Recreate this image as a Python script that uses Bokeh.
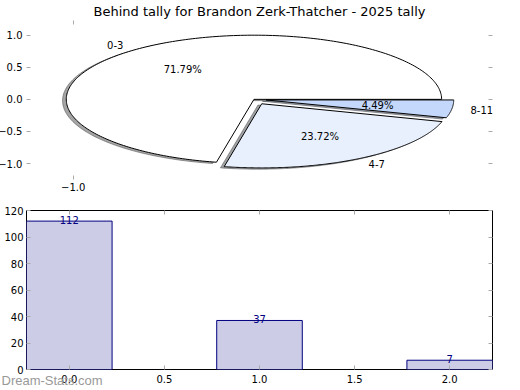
import numpy as np
from bokeh.plotting import figure
from bokeh.layouts import column
from bokeh.models import Range1d, LinearAxis, FixedTicker, ColumnDataSource, Title
from bokeh.embed import file_html
from bokeh.resources import INLINE
from bokeh.core.properties import value

# ---------------- data ----------------
categories = ["0-3", "4-7", "8-11"]
counts = [112, 37, 7]
explode = [0.0, 0.08, 0.065]
pie_colors = ["#ffffff", "#e9f0fd", "#c4d8fc"]
bar_x = [0, 1, 2]
title_text = "Behind tally for Brandon Zerk-Thatcher - 2025 tally"
pie_yticks = [-1.0, -0.5, 0.0, 0.5, 1.0]
pie_ytick_labels = ["\u22121.0", "\u22120.5", "0.0", "0.5", "1.0"]
pie_xticks = [-1.0]
pie_xtick_labels = ["\u22121.0"]
bar_xticks = [0, 0.5, 1, 1.5, 2]
bar_xtick_labels = ["0.0", "0.5", "1.0", "1.5", "2.0"]
bar_yticks = [0, 20, 40, 60, 80, 100, 120]
watermark = "Dream-Stats.com"

FONT = "DejaVu Sans"
TICK_COLOR = "#aaaaaa"
SHIFT = 11          # page is shifted left by this many px (empty space left of y labels)
W = 520 + SHIFT
H1 = 196
H2 = 194


def style_axis(ax, labels=True, size="10px", standoff=3):
    ax.axis_line_color = None
    ax.major_tick_in = 4
    ax.major_tick_out = 0
    ax.minor_tick_line_color = None
    ax.major_tick_line_color = TICK_COLOR
    ax.major_label_text_font = FONT
    ax.major_label_text_color = "black"
    if labels:
        ax.major_label_text_font_size = size
        ax.major_label_standoff = standoff
    else:
        ax.major_label_text_font_size = "0px"
        ax.major_label_standoff = 0


# ---------------- pie ----------------
p1 = figure(width=W, height=H1, output_backend="svg", toolbar_location=None,
            x_axis_type=None, y_axis_type=None,
            x_range=Range1d(-1.212, 1.271), y_range=Range1d(-1.249, 1.229),
            min_border_left=26 + SHIFT, min_border_right=26, min_border_top=20,
            min_border_bottom=17)
p1.outline_line_color = None
p1.xgrid.visible = False
p1.ygrid.visible = False
p1.extra_x_ranges = {"tick": Range1d(-1.249, 1.233)}

p1.title = Title(text=title_text, align="center", text_font=FONT, text_font_size="13px",
                 text_font_style="normal", text_color="black", standoff=3, offset=0)

ax_l = LinearAxis(ticker=FixedTicker(ticks=pie_yticks),
                  major_label_overrides={t: l for t, l in zip(pie_yticks, pie_ytick_labels)})
style_axis(ax_l, standoff=4)
p1.add_layout(ax_l, "left")
ax_r = LinearAxis(ticker=FixedTicker(ticks=pie_yticks))
style_axis(ax_r, labels=False)
p1.add_layout(ax_r, "right")
ax_b = LinearAxis(x_range_name="tick", ticker=FixedTicker(ticks=pie_xticks),
                  major_label_overrides={t: l for t, l in zip(pie_xticks, pie_xtick_labels)})
style_axis(ax_b)
p1.add_layout(ax_b, "below")
ax_t = LinearAxis(x_range_name="tick", ticker=FixedTicker(ticks=pie_xticks))
style_axis(ax_t, labels=False)
p1.add_layout(ax_t, "above")

total = float(sum(counts))
fracs = [c / total for c in counts]
theta = 0.0
wedge_xs, wedge_ys, shadow_xs, shadow_ys, shadow_cols = [], [], [], [], []
lab_x, lab_y, lab_align, pct_x, pct_y, pct_txt = [], [], [], [], [], []
for frac, ex, col in zip(fracs, explode, pie_colors):
    t1 = theta
    t2 = theta + 2 * np.pi * frac
    mid = 0.5 * (t1 + t2)
    cx, cy = ex * np.cos(mid), ex * np.sin(mid)
    ang = np.linspace(t1, t2, 240)
    xs = np.concatenate([[cx], cx + np.cos(ang), [cx]])
    ys = np.concatenate([[cy], cy + np.sin(ang), [cy]])
    wedge_xs.append(list(xs))
    wedge_ys.append(list(ys))
    shadow_xs.append(list(xs - 0.02))
    shadow_ys.append(list(ys - 0.02))
    h = col.lstrip("#")
    rgb = [int(h[i:i + 2], 16) for i in (0, 2, 4)]
    shadow_cols.append("#%02x%02x%02x" % tuple(int(0.3 * v) for v in rgb))
    lx = cx + 1.1 * np.cos(mid)
    ly = cy + 1.1 * np.sin(mid)
    lab_x.append(lx)
    lab_y.append(ly)
    lab_align.append("left" if lx > 0 else "right")
    pct_x.append(cx + 0.6 * np.cos(mid))
    pct_y.append(cy + 0.6 * np.sin(mid))
    pct_txt.append("%.2f%%" % (100 * frac))
    theta = t2

p1.patches(shadow_xs, shadow_ys, fill_color=shadow_cols, fill_alpha=0.5,
           line_color=shadow_cols, line_alpha=0.5, line_width=1)
p1.patches(wedge_xs, wedge_ys, fill_color=pie_colors, line_color="black", line_width=1)

p1.text(x=lab_x, y=lab_y, text=categories, text_align=lab_align, text_baseline="middle",
        text_font=value(FONT), text_font_size="10px", text_color="black")
p1.text(x=pct_x, y=pct_y, text=pct_txt, text_align="center", text_baseline="middle",
        text_font=value(FONT), text_font_size="10px", text_color="black")

# ---------------- bars ----------------
p2 = figure(width=W, height=H2, output_backend="svg", toolbar_location=None,
            x_axis_type=None, y_axis_type=None,
            x_range=Range1d(-0.225, 2.225), y_range=Range1d(0, 120),
            min_border_left=25 + SHIFT, min_border_right=28, min_border_top=14,
            min_border_bottom=21)
p2.outline_line_color = "black"
p2.outline_line_width = 1
p2.xgrid.visible = False
p2.ygrid.visible = False

bl = LinearAxis(ticker=FixedTicker(ticks=bar_yticks))
style_axis(bl, standoff=3)
p2.add_layout(bl, "left")
br = LinearAxis(ticker=FixedTicker(ticks=bar_yticks))
style_axis(br, labels=False)
p2.add_layout(br, "right")
bb = LinearAxis(ticker=FixedTicker(ticks=bar_xticks),
                major_label_overrides={t: l for t, l in zip(bar_xticks, bar_xtick_labels)})
style_axis(bb, standoff=5)
p2.add_layout(bb, "below")
bt = LinearAxis(ticker=FixedTicker(ticks=bar_xticks))
style_axis(bt, labels=False)
p2.add_layout(bt, "above")

# watermark
p2.add_layout(Title(text=watermark, align="left", vertical_align="top", offset=-25,
                    standoff=-26, text_font="Liberation Sans", text_font_size="13px",
                    text_font_style="normal", text_color="#999999"), "below")

src = ColumnDataSource(dict(x=bar_x, top=counts, lab=[str(c) for c in counts]))
p2.vbar(x="x", top="top", width=0.45, bottom=0, source=src,
        fill_color="#ccccE6", line_color="#000080", line_width=1)
p2.text(x="x", y="top", text="lab", source=src, text_align="center",
        text_baseline="alphabetic", y_offset=-1, text_font=value(FONT),
        text_font_size="10px", text_color="#000080")

layout = column(p1, p2, spacing=0, margin=(0, 0, 0, -SHIFT))

open("out.html", "w").write(file_html(layout, INLINE))
